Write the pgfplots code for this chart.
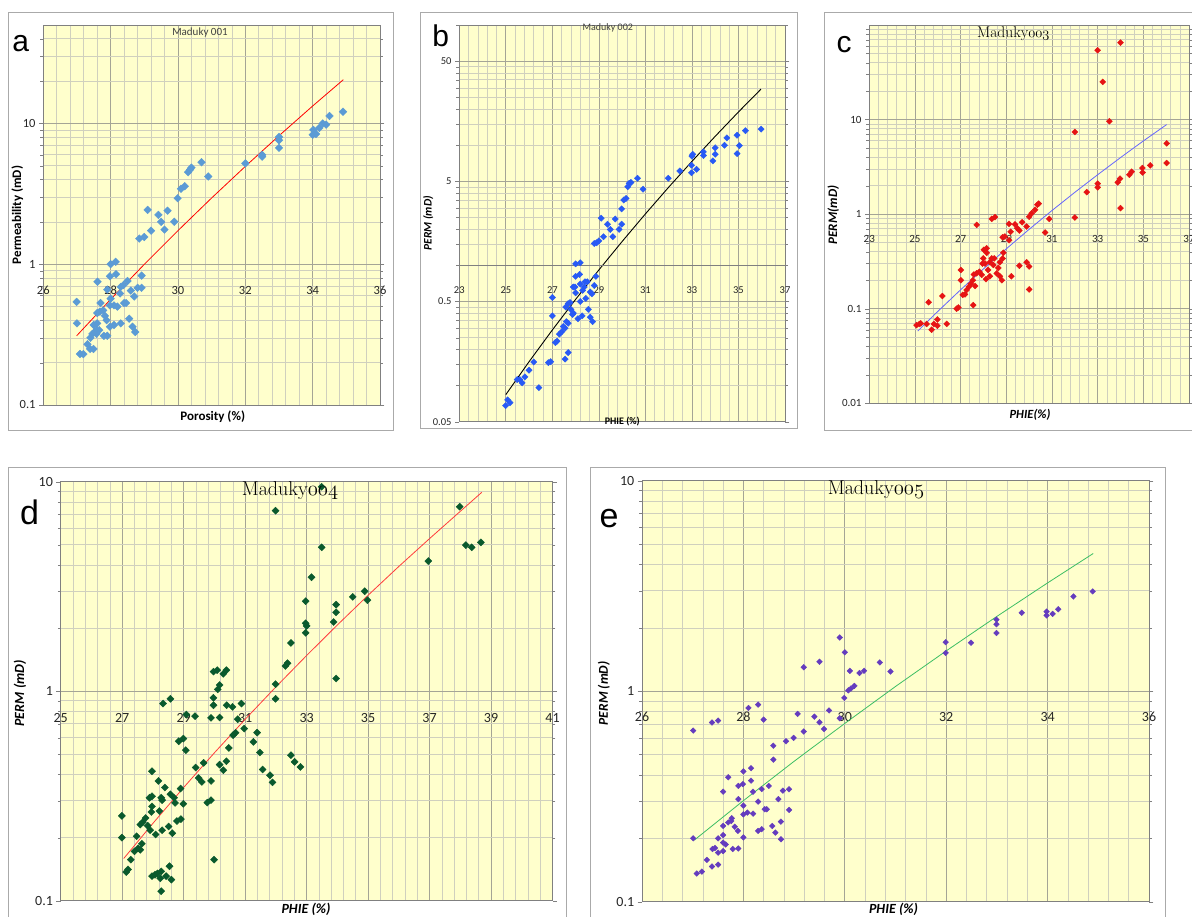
\documentclass[border=0pt]{standalone}
\usepackage{fontspec}
\setsansfont{Carlito}
\renewcommand{\familydefault}{\sfdefault}
\newfontfamily\arialfont{Liberation Sans}
\usepackage{pgfplots}
\pgfplotsset{compat=1.18}

\definecolor{bgy}{RGB}{255,255,204}
\definecolor{majg}{RGB}{165,165,150}
\definecolor{ming}{RGB}{208,208,190}
\definecolor{axg}{RGB}{128,128,128}
\definecolor{framec}{RGB}{170,170,170}
\definecolor{ca}{RGB}{91,155,213}
\definecolor{cb}{RGB}{40,90,245}
\definecolor{cc}{RGB}{230,20,20}
\definecolor{cd}{RGB}{10,90,45}
\definecolor{ce}{RGB}{100,60,190}
\definecolor{ta}{RGB}{255,0,0}
\definecolor{tc}{RGB}{100,100,255}
\definecolor{td}{RGB}{255,60,60}
\definecolor{te}{RGB}{60,190,100}

\newcommand{\osn}[1]{$\mathnormal{#1}$}

\pgfplotsset{
  panel/.style={
    scale only axis, anchor=south west,
    axis background/.style={fill=bgy},
    grid=both,
    major grid style={draw=majg, line width=0.7pt},
    minor grid style={draw=ming, line width=0.6pt},
    axis line style={draw=axg, line width=0.8pt},
    tick align=outside,
    minor tick style={draw=none},
    xtick style={draw=none},
    ytick style={draw=axg},
    minor x tick num=4,
    xticklabel style={anchor=center},
    tick label style={text=black!85},
  },
  sq/.style={only marks, mark=square*, mark options={rotate=45, draw=#1, fill=#1}},
}

\begin{document}
\begin{tikzpicture}
\useasboundingbox (0pt,0pt) rectangle (1192pt,917pt);
\fill[white] (0pt,0pt) rectangle (1192pt,917pt);
% frames
\draw[framec, line width=0.8pt] (8pt,905pt) rectangle (393pt,487pt);
\draw[framec, line width=0.8pt] (420pt,905pt) rectangle (797pt,489pt);
\draw[framec, line width=0.8pt] (824pt,905pt) rectangle (1200pt,487pt);
\draw[framec, line width=0.8pt] (8pt,450pt) rectangle (566pt,-8pt);
\draw[framec, line width=0.8pt] (590pt,450pt) rectangle (1165pt,-8pt);

% ---------------- panel a
\begin{semilogyaxis}[panel, at={(43.3pt,512pt)}, width=336.7pt, height=380pt,
  xmin=26, xmax=36, ymin=0.1, ymax=50,
  xtick={26,28,30,32,34,36}, xticklabels={26,28,30,32,34,36},
  ytick={0.1,1,10}, yticklabels={0.1,1,10},
  minor ytick={0.2,0.3,0.4,0.5,0.6,0.7,0.8,0.9,2,3,4,5,6,7,8,9,20,30,40},
  xticklabel style={yshift=119pt},
  tick label style={font=\fontsize{12.5}{13}\selectfont}]
\addplot[sq=ca, mark size=2.7pt] table {
26.99 0.54
27.00 0.38
27.09 0.23
27.19 0.23
27.31 0.27
27.39 0.25
27.49 0.25
27.40 0.30
27.46 0.32
27.53 0.33
27.58 0.32
27.50 0.37
27.60 0.38
27.58 0.34
27.66 0.34
27.61 0.75
27.70 0.53
27.60 0.45
27.68 0.46
27.78 0.47
27.83 0.43
27.88 0.40
27.90 0.66
27.98 0.82
28.00 1.00
28.15 1.04
28.16 0.85
28.00 0.57
27.98 0.51
28.10 0.51
28.20 0.50
27.98 0.36
28.10 0.37
27.80 0.31
27.90 0.31
28.30 0.38
28.28 0.62
28.30 0.69
28.38 0.71
28.50 0.76
28.40 0.53
28.46 0.53
28.55 0.41
28.60 0.65
28.70 0.59
28.65 0.36
28.73 0.33
28.80 0.68
28.92 0.68
28.92 0.83
28.85 1.52
29.00 1.56
29.20 1.73
29.10 2.43
29.42 2.24
29.50 2.00
29.60 1.76
29.69 2.40
29.89 2.00
29.99 2.94
30.09 3.43
30.20 3.58
30.30 4.50
30.36 4.70
30.40 4.85
30.70 5.30
30.90 4.20
32.00 5.20
32.50 5.97
32.50 5.80
33.00 8.00
33.00 7.60
33.00 6.70
34.02 9.00
34.00 8.30
34.10 8.40
34.20 9.30
34.30 10.0
34.40 9.80
34.50 11.3
34.90 12.1
};
\addplot[ta, line width=0.8pt] coordinates {
(26.99,0.31) (28,0.563) (29,0.998) (30,1.732) (31,2.954) (32,4.95) (33,8.17) (34,13.29) (34.91,20.43)};
\end{semilogyaxis}

% ---------------- panel b
\begin{semilogyaxis}[panel, at={(459.3pt,495.3pt)}, width=325.7pt, height=396.7pt,
  xmin=23, xmax=37, ymin=0.05, ymax=100,
  xtick={23,25,27,29,31,33,35,37}, xticklabels={23,25,27,29,31,33,35,37},
  ytick={0.05,0.5,5,50}, yticklabels={0.05,0.5,5,50},
  minor ytick={0.1,0.15,0.2,0.25,0.3,0.35,0.4,0.45,1,1.5,2,2.5,3,3.5,4,4.5,10,15,20,25,30,35,40,45,100},
  xticklabel style={yshift=135.7pt},
  tick label style={font=\fontsize{10.5}{11}\selectfont}]
\addplot[sq=cb, mark size=2.2pt] table {
24.99 0.068
25.08 0.076
25.18 0.072
25.49 0.112
25.60 0.112
25.70 0.105
25.82 0.118
26.00 0.134
26.20 0.157
26.42 0.096
26.83 0.155
26.93 0.158
27.00 0.54
27.00 0.38
27.13 0.228
27.20 0.234
27.30 0.268
27.40 0.28
27.47 0.31
27.55 0.30
27.55 0.166
27.68 0.188
27.58 0.45
27.68 0.48
27.76 0.49
27.80 0.43
27.90 0.40
27.87 0.39
27.60 0.34
27.68 0.33
27.90 0.66
27.97 0.66
28.00 0.81
28.00 1.03
28.20 1.05
28.17 0.84
28.00 0.59
28.10 0.36
28.20 0.50
28.28 0.38
28.20 0.70
28.30 0.62
28.37 0.66
28.40 0.73
28.50 0.73
28.44 0.53
28.55 0.43
28.63 0.37
28.73 0.34
28.63 0.60
28.70 0.58
28.80 0.68
28.87 0.81
28.80 1.52
28.90 1.54
29.00 1.60
29.10 2.47
29.20 1.73
29.37 2.20
29.49 1.99
29.60 1.73
29.70 2.43
29.87 1.99
29.98 2.20
29.98 2.95
30.07 3.50
30.17 3.60
30.24 4.50
30.30 4.80
30.38 4.90
30.66 5.30
30.90 4.30
31.98 5.30
32.48 6.10
32.98 5.90
32.98 6.80
33.00 8.10
33.03 8.40
33.20 6.30
33.49 8.80
33.50 8.20
33.90 7.40
34.00 9.50
34.00 8.40
34.40 10.0
34.50 11.5
34.94 8.50
34.94 12.1
35.04 9.90
35.30 13.2
35.97 13.6
};
\addplot[black, line width=0.9pt] coordinates {
(25,0.084) (26,0.158) (27,0.290) (28,0.521) (29,0.916) (30,1.58) (31,2.68) (32,4.47) (33,7.33) (34,11.85) (35,18.9) (35.97,29.3)};
\addplot[axg, line width=0.8pt] coordinates {(23,1) (37,1)};
\end{semilogyaxis}

% ---------------- panel c
\begin{semilogyaxis}[panel, at={(869.3pt,513.7pt)}, width=319.7pt, height=378.3pt,
  xmin=23, xmax=37, ymin=0.01, ymax=100,
  xtick={23,25,27,29,31,33,35,37}, xticklabels={23,25,27,29,31,33,35,37},
  ytick={0.01,0.1,1,10}, yticklabels={0.01,0.1,1,10},
  minor ytick={0.02,0.03,0.04,0.05,0.06,0.07,0.08,0.09,0.2,0.3,0.4,0.5,0.6,0.7,0.8,0.9,2,3,4,5,6,7,8,9,20,30,40,50,60,70,80,90},
  xticklabel style={yshift=168.3pt},
  tick label style={font=\fontsize{11}{11}\selectfont}]
\addplot[sq=cc, mark size=2.1pt] table {
25.07 0.067
25.19 0.069
25.25 0.070
25.51 0.069
25.60 0.117
25.73 0.060
25.83 0.069
25.98 0.077
25.98 0.066
26.20 0.136
26.39 0.069
26.82 0.100
26.90 0.103
27.01 0.257
27.01 0.200
27.09 0.140
27.19 0.142
27.26 0.158
27.36 0.171
27.44 0.183
27.53 0.200
27.58 0.230
27.63 0.174
27.55 0.109
27.70 0.77
27.70 0.237
27.82 0.246
27.92 0.228
27.96 0.30
27.99 0.34
28.02 0.42
28.14 0.436
28.14 0.39
28.07 0.30
28.11 0.205
28.20 0.257
28.28 0.22
28.36 0.89
28.50 0.93
28.28 0.31
28.36 0.34
28.43 0.29
28.47 0.34
28.58 0.237
28.65 0.27
28.72 0.31
28.72 0.22
28.80 0.20
28.84 0.34
28.87 0.39
28.84 0.57
28.94 0.58
29.12 0.53
29.12 0.79
29.19 0.65
29.22 0.22
29.38 0.78
29.48 0.71
29.57 0.67
29.57 0.285
29.69 0.82
29.89 0.74
29.89 0.31
30.00 0.28
30.00 0.16
30.00 0.94
30.11 1.02
30.26 1.11
30.36 1.26
30.42 1.29
30.70 0.64
30.88 0.89
32.00 7.4
32.00 0.92
32.52 1.71
33.00 54
33.00 2.10
33.00 1.92
33.22 25
33.51 9.6
33.88 2.17
33.98 2.37
34.00 65
34.00 1.16
34.39 2.61
34.49 2.81
34.96 3.07
34.97 2.76
35.30 3.28
36.02 5.6
36.02 3.47
};
\addplot[tc, line width=0.8pt] coordinates {
(25.12,0.058) (26,0.0937) (27,0.1587) (28,0.2636) (29,0.430) (30,0.691) (31,1.092) (32,1.701) (33,2.61) (34,3.965) (35,5.94) (36.02,8.85)};
\end{semilogyaxis}

% ---------------- panel d
\begin{semilogyaxis}[panel, at={(60.7pt,16.3pt)}, width=491.8pt, height=419pt,
  xmin=25, xmax=41, ymin=0.1, ymax=10,
  xtick={25,27,29,31,33,35,37,39,41}, xticklabels={25,27,29,31,33,35,37,39,41},
  ytick={0.1,1,10}, yticklabels={0.1,1,10},
  minor ytick={0.2,0.3,0.4,0.5,0.6,0.7,0.8,0.9,2,3,4,5,6,7,8,9},
  xticklabel style={yshift=187.4pt},
  tick label style={font=\fontsize{14}{14}\selectfont}]
\addplot[sq=cd, mark size=2.5pt] table {
26.99 0.254
26.99 0.200
27.13 0.137
27.19 0.141
27.28 0.157
27.40 0.172
27.47 0.203
27.52 0.178
27.59 0.175
27.64 0.187
27.59 0.231
27.67 0.237
27.76 0.248
27.83 0.228
27.91 0.217
27.95 0.265
27.97 0.282
27.89 0.310
27.97 0.315
27.97 0.415
27.97 0.131
28.07 0.133
28.09 0.207
28.15 0.135
28.18 0.373
28.21 0.268
28.24 0.128
28.27 0.138
28.27 0.111
28.27 0.310
28.30 0.302
28.30 0.217
28.33 0.873
28.39 0.347
28.43 0.131
28.51 0.226
28.54 0.146
28.57 0.920
28.57 0.322
28.60 0.126
28.63 0.210
28.69 0.310
28.72 0.293
28.78 0.240
28.84 0.577
28.90 0.343
28.91 0.245
28.99 0.290
28.99 0.594
29.07 0.523
29.09 0.774
29.37 0.760
29.39 0.432
29.49 0.385
29.59 0.369
29.65 0.455
29.77 0.294
29.89 0.302
29.89 0.373
29.89 0.746
29.99 0.157
29.97 0.930
29.97 0.857
29.97 1.24
30.09 1.26
30.11 1.02
30.17 1.07
30.17 0.749
30.17 0.446
30.29 0.420
30.29 1.21
30.39 1.26
30.39 0.463
30.40 0.857
30.47 0.536
30.59 0.842
30.61 0.617
30.69 0.633
30.76 0.735
30.88 0.873
30.97 0.663
31.27 0.573
31.39 0.634
31.48 0.510
31.57 0.423
31.81 0.397
31.89 0.367
31.99 7.27
31.99 1.08
31.99 0.920
32.31 1.32
32.38 1.36
32.49 1.70
32.49 0.495
32.61 0.460
32.80 0.435
32.97 2.69
32.97 2.11
33.00 2.05
32.97 1.90
33.16 3.50
33.49 9.46
33.49 4.86
33.88 2.14
33.96 2.59
33.96 2.38
33.96 1.15
34.50 2.82
34.89 3.00
34.98 2.72
36.96 4.18
37.98 7.60
38.18 4.98
38.37 4.86
38.67 5.13
};
\addplot[td, line width=0.8pt] coordinates {
(27.05,0.159) (28,0.234) (29,0.347) (30,0.508) (31,0.734) (32,1.048) (33,1.48) (34,2.07) (35,2.87) (36,3.94) (37,5.35) (38,7.22) (38.7,8.9)};
\end{semilogyaxis}

% ---------------- panel e
\begin{semilogyaxis}[panel, at={(642pt,15.3pt)}, width=507pt, height=421pt,
  xmin=26, xmax=36, ymin=0.1, ymax=10,
  xtick={26,28,30,32,34,36}, xticklabels={26,28,30,32,34,36},
  ytick={0.1,1,10}, yticklabels={0.1,1,10},
  minor ytick={0.2,0.3,0.4,0.5,0.6,0.7,0.8,0.9,2,3,4,5,6,7,8,9},
  xticklabel style={yshift=189.4pt},
  tick label style={font=\fontsize{14}{14}\selectfont}]
\addplot[sq=ce, mark size=2.0pt] table {
27.01 0.650
27.01 0.200
27.08 0.136
27.18 0.139
27.28 0.158
27.38 0.147
27.38 0.710
27.50 0.725
27.39 0.178
27.44 0.180
27.50 0.171
27.50 0.150
27.50 0.200
27.60 0.191
27.60 0.174
27.60 0.333
27.60 0.207
27.60 0.229
27.65 0.187
27.70 0.390
27.70 0.238
27.76 0.242
27.77 0.249
27.79 0.178
27.83 0.227
27.89 0.217
27.90 0.179
27.90 0.355
27.90 0.307
27.99 0.362
28.00 0.416
28.00 0.286
28.00 0.260
28.00 0.202
28.08 0.265
28.10 0.833
28.15 0.431
28.15 0.376
28.19 0.262
28.19 0.333
28.29 0.864
28.29 0.299
28.29 0.217
28.36 0.343
28.36 0.221
28.40 0.733
28.42 0.275
28.46 0.275
28.50 0.355
28.57 0.229
28.59 0.551
28.59 0.473
28.63 0.213
28.69 0.307
28.74 0.240
28.74 0.198
28.78 0.337
28.84 0.578
28.90 0.342
28.90 0.273
28.99 0.600
29.07 0.780
29.19 0.643
29.19 1.30
29.40 0.757
29.50 0.712
29.50 1.38
29.59 0.662
29.69 0.810
29.90 1.80
29.90 0.744
29.99 0.929
30.00 1.53
30.07 1.01
30.10 1.25
30.12 1.03
30.19 1.06
30.29 1.22
30.38 1.25
30.69 1.37
30.90 1.24
31.99 1.71
31.99 1.52
32.49 1.70
32.99 2.19
32.99 2.08
32.99 1.89
33.49 2.36
33.98 2.39
33.98 2.29
34.10 2.33
34.21 2.45
34.51 2.82
34.89 2.98
};
\addplot[te, line width=0.8pt] coordinates {
(27.03,0.196) (28,0.302) (29,0.4645) (30,0.703) (31,1.053) (32,1.554) (33,2.267) (34,3.27) (34.9,4.51)};
\end{semilogyaxis}

% ---------------- titles, letters, labels
\node[text=black!75] at (200pt,884.7pt) {\fontsize{11}{11}\selectfont Maduky 001};
\node[text=black!75] at (607.7pt,888.7pt) {\fontsize{10}{10}\selectfont Maduky 002};
\node at (1013.3pt,883.7pt) {\rmfamily\fontsize{15.5}{16}\selectfont Maduky\osn{003}};
\node at (290pt,426pt) {\rmfamily\fontsize{20}{20}\selectfont Maduky\osn{004}};
\node at (876pt,427.5pt) {\rmfamily\fontsize{20}{20}\selectfont Maduky\osn{005}};

\node at (20.7pt,873.7pt) {\arialfont\fontsize{30}{30}\selectfont a};
\node at (440.7pt,881pt) {\arialfont\fontsize{30}{30}\selectfont b};
\node at (844pt,872pt) {\arialfont\fontsize{30}{30}\selectfont c};
\node at (29.5pt,404.7pt) {\arialfont\fontsize{34}{34}\selectfont d};
\node at (609pt,398.7pt) {\arialfont\fontsize{34}{34}\selectfont e};

\node[rotate=90] at (17.3pt,702pt) {\bfseries\fontsize{13}{13}\selectfont Permeability (mD)};
\node at (212.7pt,500.3pt) {\bfseries\fontsize{13}{13}\selectfont Porosity (\%)};
\node[rotate=90] at (428.3pt,693.7pt) {\bfseries\itshape\fontsize{11.5}{12}\selectfont PERM (mD)};
\node at (622.3pt,495.3pt) {\bfseries\fontsize{10}{10}\selectfont PHIE (\%)};
\node[rotate=90] at (833.3pt,702pt) {\bfseries\itshape\fontsize{13}{13}\selectfont PERM(mD)};
\node at (1030pt,502pt) {\bfseries\itshape\fontsize{12.5}{13}\selectfont PHIE(\%)};
\node[rotate=90] at (20pt,223.7pt) {\bfseries\itshape\fontsize{14}{14}\selectfont PERM (mD)};
\node at (306pt,7.5pt) {\bfseries\itshape\fontsize{14}{14}\selectfont PHIE (\%)};
\node[rotate=90] at (604pt,223.7pt) {\bfseries\itshape\fontsize{13.5}{14}\selectfont PERM (mD)};
\node at (893.5pt,7.5pt) {\bfseries\itshape\fontsize{14}{14}\selectfont PHIE (\%)};
\end{tikzpicture}
\end{document}
